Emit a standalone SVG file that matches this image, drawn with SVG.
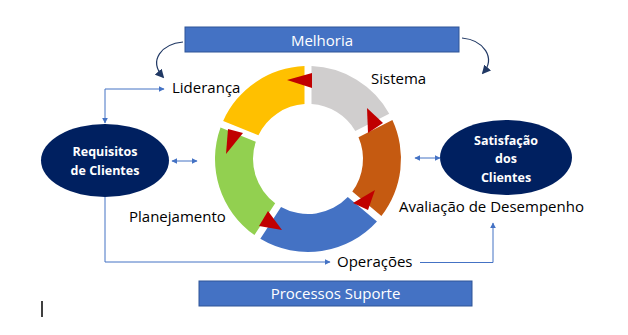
<svg xmlns="http://www.w3.org/2000/svg" width="628" height="335" viewBox="0 0 628 335">
<style>
.lbl{font-family:"Open Sans","Noto Sans",sans-serif;font-size:15px;fill:#000}
.bx{fill:#4472C4;stroke:#2F5597;stroke-width:1}
.bxt{font-family:"Open Sans","Noto Sans",sans-serif;font-size:15px;fill:#fff;text-anchor:middle}
.ell{fill:#002060}
.et{font-family:"Open Sans","Noto Sans",sans-serif;font-size:12.5px;font-weight:bold;fill:#fff;text-anchor:middle}
.con{fill:none;stroke:#4472C4;stroke-width:1}
.cur{fill:none;stroke:#203864;stroke-width:1.2}
.red{fill:#C00000}
</style>
<defs>
<marker id="ab" viewBox="0 0 10 10" refX="9" refY="5" markerWidth="6" markerHeight="6" markerUnits="userSpaceOnUse" orient="auto-start-reverse">
<path d="M0,0 L10,5 L0,10 Z" fill="#4472C4"/>
</marker>
<marker id="ad" viewBox="0 0 10 10" refX="8" refY="5" markerWidth="9" markerHeight="9" markerUnits="userSpaceOnUse" orient="auto">
<path d="M0,0 L10,5 L0,10 Z" fill="#203864"/>
</marker>
</defs>

<g id="ring">
<path id="seg-sistema" d="M311.5,66.07 A93,93 0 0 1 389.22,113.69 L355.32,130.96 A55,55 0 0 0 311.5,104.11 Z" fill="#D0CECE"/>
<path id="seg-avaliacao" d="M392.39,119.93 A93,93 0 0 1 381.41,216.08 L352.30,191.60 A55,55 0 0 0 358.50,137.20 Z" fill="#C55A11"/>
<path id="seg-operacoes" d="M376.96,221.40 A93,93 0 0 1 260.33,238.85 L281.04,206.94 A55,55 0 0 0 347.79,196.97 Z" fill="#4472C4"/>
<path id="seg-planejamento" d="M254.45,235.04 A93,93 0 0 1 220.52,127.44 L255.80,141.69 A55,55 0 0 0 275.18,203.14 Z" fill="#92D050"/>
<path id="seg-lideranca" d="M223.15,120.94 A93,93 0 0 1 304.5,66.07 L304.5,104.11 A55,55 0 0 0 258.42,135.19 Z" fill="#FFC000"/>
<polygon class="red" points="287,80 312,73 312,88"/>
<polygon class="red" points="367,108 368,133 383,123"/>
<polygon class="red" points="375,190 353,203 368,210"/>
<polygon class="red" points="282,230 268,211 259,226"/>
<polygon class="red" points="226,154 228,129 243,133"/>
</g>

<g id="labels">
<text class="lbl" x="172" y="93">Liderança</text>
<text class="lbl" x="371" y="84">Sistema</text>
<text class="lbl" x="129" y="222">Planejamento</text>
<text class="lbl" x="399" y="212">Avaliação de Desempenho</text>
<text class="lbl" x="337" y="267">Operações</text>
</g>

<g id="melhoria">
<rect class="bx" x="185" y="27" width="274" height="25"/>
<text class="bxt" x="322" y="45.5">Melhoria</text>
</g>

<g id="processos">
<rect class="bx" x="199" y="281" width="273" height="25"/>
<text class="bxt" x="335.5" y="299">Processos Suporte</text>
</g>

<g id="requisitos">
<ellipse class="ell" cx="105" cy="160.5" rx="64" ry="36.5"/>
<text class="et" x="105" y="156">Requisitos</text>
<text class="et" x="105" y="175">de Clientes</text>
</g>

<g id="satisfacao">
<ellipse class="ell" cx="506" cy="157.5" rx="66" ry="37.5"/>
<text class="et" x="506" y="145">Satisfação</text>
<text class="et" x="506" y="163">dos</text>
<text class="et" x="506" y="182">Clientes</text>
</g>

<g id="connectors">
<line class="con" x1="172" y1="161" x2="197" y2="161" marker-start="url(#ab)" marker-end="url(#ab)"/>
<line class="con" x1="415" y1="158" x2="440" y2="158" marker-start="url(#ab)" marker-end="url(#ab)"/>
<path class="con" d="M105,123 L105,89 L164,89" marker-start="url(#ab)" marker-end="url(#ab)"/>
<path class="con" d="M105,197 L105,262 L330,262" marker-end="url(#ab)"/>
<path class="con" d="M420,262.5 L493,262.5 L493,223" marker-end="url(#ab)"/>
<path class="cur" d="M183,42 C162,44 148,60 163,77" marker-end="url(#ad)"/>
<path class="cur" d="M462,38 C484,40 496,58 483,73" marker-end="url(#ad)"/>
</g>

<line x1="42" y1="301" x2="42" y2="317" stroke="#000" stroke-width="1.5"/>
</svg>
